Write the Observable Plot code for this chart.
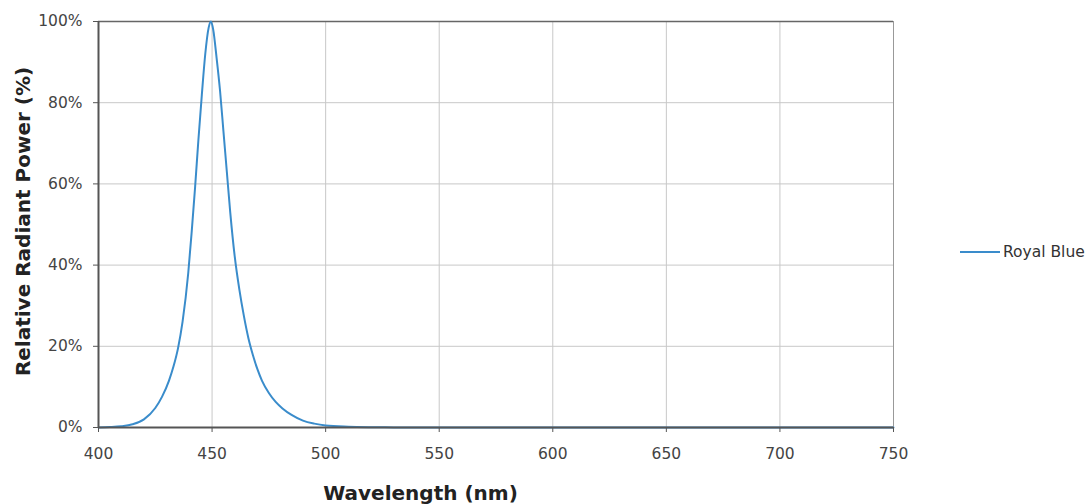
<!DOCTYPE html>
<html>
<head>
<meta charset="utf-8">
<script src="https://cdn.jsdelivr.net/npm/d3@7"></script>
<script src="https://cdn.jsdelivr.net/npm/@observablehq/plot@0.6"></script>
<style>
  html, body { margin: 0; padding: 0; background: #fff; }
  #wrap { position: relative; width: 1089px; height: 504px; font-family: "DejaVu Sans", Verdana, sans-serif; }
  #legend { position: absolute; left: 960px; top: 243px; display: flex; align-items: center; font-size: 15.5px; color: #333; z-index: 2; white-space: nowrap; }
  #legend .sw { width: 40px; height: 2px; background: #3a8ccb; margin-right: 3px; }
</style>
</head>
<body>
<div id="wrap"><div id="legend"><span class="sw"></span><span>Royal Blue</span></div></div>
<script>
const wavelengths = [400, 405, 410, 415, 420, 425, 428, 431, 433, 435, 437, 439.5, 441, 442.5, 444, 445.5, 447, 448.5, 449.5, 450.5, 452, 453.5, 455, 456.5, 458, 460, 462, 464, 466, 468, 470, 472, 475, 478, 481, 485, 490, 495, 500, 510, 520, 530, 550, 600, 650, 700, 750];
const power =       [0,   0.1, 0.3, 0.8, 2.0, 4.8, 7.6, 11.5, 15, 19.5, 26, 38, 48, 59, 71, 82, 92, 98.5, 100, 98, 91, 83, 73, 63, 53, 42, 34, 27.5, 22, 17.8, 14.3, 11.5, 8.5, 6.3, 4.7, 3.1, 1.7, 0.95, 0.5, 0.2, 0.08, 0.03, 0, 0, 0, 0, 0];
const xTicks = [400, 450, 500, 550, 600, 650, 700, 750];
const yTicks = [0, 20, 40, 60, 80, 100];
const xLabel = "Wavelength (nm)";
const yLabel = "Relative Radiant Power (%)";

const data = wavelengths.map((w, i) => ({w, p: power[i]}));

const chart = Plot.plot({
  width: 1089,
  height: 504,
  marginLeft: 98,
  marginRight: 196,
  marginTop: 21,
  marginBottom: 77,
  style: {fontFamily: "DejaVu Sans, Verdana, sans-serif", fontSize: "15px", color: "#444", background: "#fff", overflow: "visible"},
  x: {domain: [400, 750]},
  y: {domain: [0, 100]},
  marks: [
    Plot.gridX(xTicks, {stroke: "#c8c8c8", strokeOpacity: 1, strokeWidth: 1}),
    Plot.gridY(yTicks, {stroke: "#c8c8c8", strokeOpacity: 1, strokeWidth: 1}),
    Plot.ruleY([100], {stroke: "#666", strokeWidth: 1.5}),
    Plot.ruleX([750], {stroke: "#999", strokeWidth: 1}),
    Plot.line(data, {x: "w", y: "p", stroke: "#3a8ccb", strokeWidth: 2, curve: "monotone-x"}),
    Plot.ruleX([400], {stroke: "#555", strokeWidth: 2}),
    Plot.ruleY([0], {stroke: "#555", strokeWidth: 2}),
    Plot.axisX(xTicks, {tickSize: 5, tickPadding: 15, stroke: "#555", fill: "#444", fontSize: 15.5, label: null}),
    Plot.axisY(yTicks, {tickSize: 5, tickPadding: 11, stroke: "#555", fill: "#444", fontSize: 15.5, tickFormat: d => d + "%", label: null}),
    Plot.text([xLabel], {frameAnchor: "bottom-left", dx: 322, dy: 66, lineAnchor: "middle", text: d => d, fontSize: 20, fontWeight: "bold", fill: "#222", textAnchor: "middle"}),
    Plot.text([yLabel], {frameAnchor: "left", dx: -75, dy: -3, text: d => d, fontSize: 20, fontWeight: "bold", fill: "#222", rotate: -90, textAnchor: "middle"})
  ]
});
document.getElementById("wrap").prepend(chart);
chart.style.position = "absolute";
chart.style.left = "0";
chart.style.top = "0";
</script>
</body>
</html>
